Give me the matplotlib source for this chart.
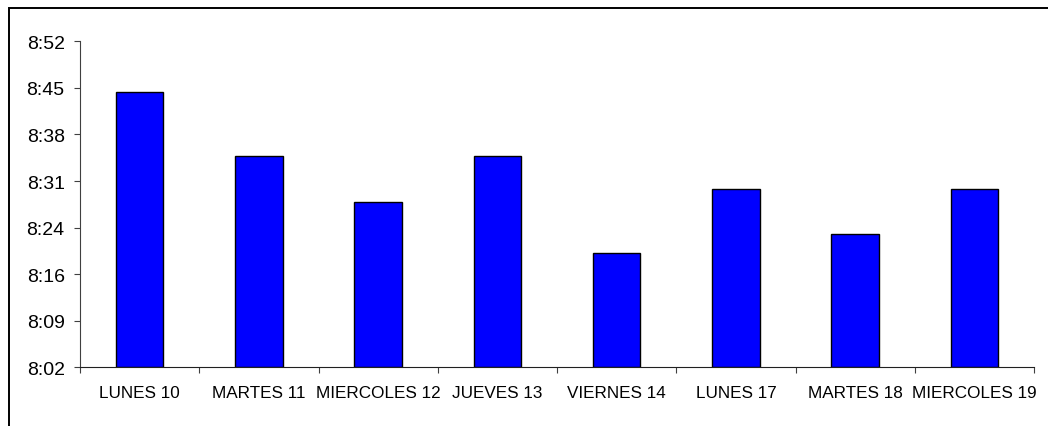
import matplotlib
matplotlib.use("Agg")
import matplotlib.pyplot as plt
from matplotlib.ticker import FuncFormatter, FixedLocator
from matplotlib.patches import Rectangle
import numpy as np

plt.rcParams['font.family'] = ['Liberation Sans', 'DejaVu Sans']

dias = ["LUNES 10", "MARTES 11", "MIERCOLES 12", "JUEVES 13",
        "VIERNES 14", "LUNES 17", "MARTES 18", "MIERCOLES 19"]
horas = ["8:45", "8:35", "8:28", "8:35", "8:20", "8:30", "8:23", "8:30"]

# eje en minutos desde medianoche (pasos de 0.005 dias como en Excel)
y_min = 0.335 * 1440
y_max = 0.370 * 1440
y_paso = 0.005 * 1440


def a_minutos(h):
    hh, mm = h.split(":")
    return int(hh) * 60 + int(mm)


def fmt_hora(v, pos):
    v = int(round(v * 60)) // 60  # segundos -> minutos truncados
    return "%d:%02d" % (v // 60, v % 60)


valores = np.array([a_minutos(h) for h in horas], dtype=float)
x = np.arange(len(dias))

fig = plt.figure(figsize=(10.48, 4.27), dpi=100)
ax = fig.add_axes([80 / 1048, 1 - 368.3 / 427, (1034 - 80) / 1048, 326 / 427])

ax.bar(x, valores - y_min, bottom=y_min, width=0.4, color="#0000FF",
       edgecolor="black", linewidth=1.0)

ax.set_xlim(-0.5, len(dias) - 0.5)
ax.set_ylim(y_min, y_max)
ax.yaxis.set_major_locator(FixedLocator(np.arange(y_min, y_max + 0.01, y_paso)))
ax.yaxis.set_major_formatter(FuncFormatter(fmt_hora))

ax.set_xticks(x)
ax.set_xticklabels(dias)
ax.set_xticks(np.arange(-0.5, len(dias)), minor=True)
ax.tick_params(axis="x", which="major", length=0, pad=13, labelsize=12.3)
ax.tick_params(axis="x", which="minor", length=4, width=0.8, color="#404040")
ax.tick_params(axis="y", length=4, width=0.8, color="#404040", pad=7, labelsize=14)

for s in ["top", "right"]:
    ax.spines[s].set_visible(False)
ax.spines["left"].set_color("#404040")
ax.spines["left"].set_linewidth(0.8)
ax.spines["bottom"].set_color("#202020")
ax.spines["bottom"].set_linewidth(0.8)

# marco del grafico
fig.patches.append(Rectangle((8.5 / 1048, -0.1), 1.2, 1.1 - 8.5 / 427,
                             transform=fig.transFigure, fill=False,
                             edgecolor="black", linewidth=1.4))

fig.savefig("out.png", dpi=100)
